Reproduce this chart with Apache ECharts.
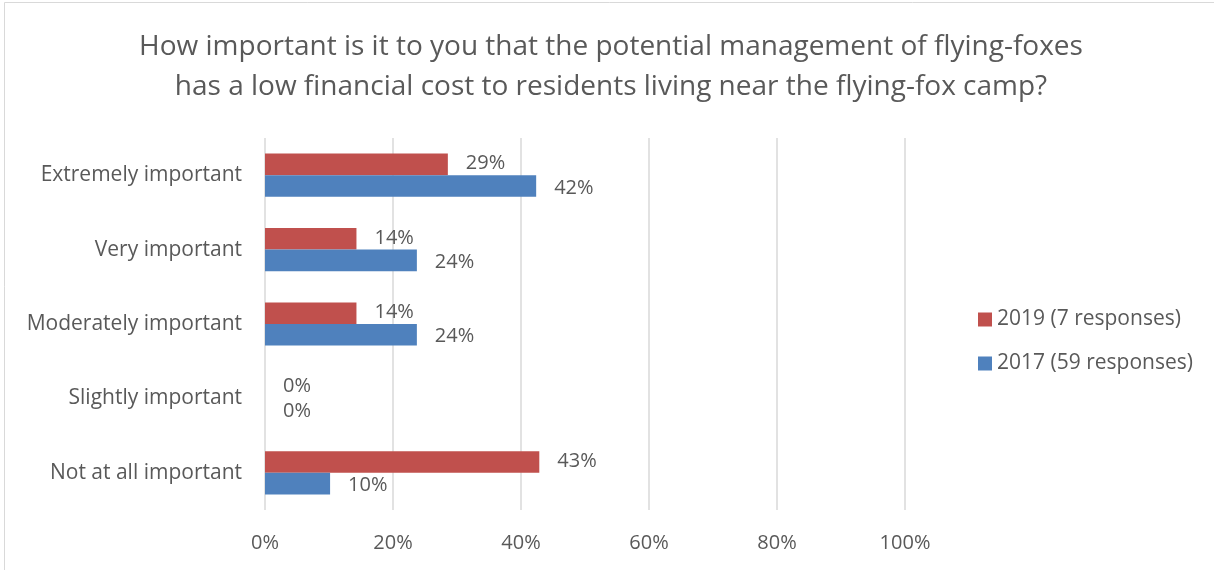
<!DOCTYPE html>
<html>
<head>
<meta charset="utf-8">
<script src="https://cdn.jsdelivr.net/npm/echarts@6/dist/echarts.min.js"></script>
<style>html,body{margin:0;padding:0;background:#fff;}#c{width:1214px;height:570px;}</style>
</head>
<body>
<div id="c"></div>
<script>
const titleText = 'How important is it to you that the potential management of flying-foxes\nhas a low financial cost to residents living near the flying-fox camp?';
const categories = ['Extremely important', 'Very important', 'Moderately important', 'Slightly important', 'Not at all important'];
const seriesNames = ['2019 (7 responses)', '2017 (59 responses)'];
const values2019 = [28.57, 14.29, 14.29, 0, 42.86];
const values2017 = [42.37, 23.73, 23.73, 0, 10.17];
const xTicks = [0, 20, 40, 60, 80, 100];

const FONT = 'Open Sans';
const TXT = '#595959';
const chart = echarts.init(document.getElementById('c'));
const labelCfg = {
  show: true, position: 'right', distance: 18,
  color: TXT, fontFamily: FONT, fontSize: 20,
  formatter: p => Math.round(p.value) + '%'
};
chart.setOption({
  animation: false,
  backgroundColor: '#fff',
  graphic: [{
    type: 'rect', shape: {x: 4.5, y: 2.5, width: 1300, height: 700},
    style: {fill: 'none', stroke: '#d9d9d9', lineWidth: 1}, silent: true
  }],
  title: {
    text: titleText, left: 606, textAlign: 'center', top: 22,
    textStyle: {fontFamily: FONT, fontSize: 28, fontWeight: 'normal', color: TXT, lineHeight: 40}
  },
  legend: {
    orient: 'vertical', left: 973, top: 304, itemGap: 23,
    itemWidth: 14, itemHeight: 14, icon: 'rect',
    textStyle: {fontFamily: FONT, fontSize: 21, color: TXT},
    data: seriesNames
  },
  grid: {left: 265, right: 309, top: 138, bottom: 60, containLabel: false},
  xAxis: {
    type: 'value', min: 0, max: 100, interval: 20,
    axisLine: {show: false}, axisTick: {show: false},
    splitLine: {lineStyle: {color: '#d9d9d9', width: 1.5}},
    axisLabel: {color: TXT, fontFamily: FONT, fontSize: 20, margin: 23,
      formatter: v => xTicks.includes(v) ? v + '%' : ''}
  },
  yAxis: {
    type: 'category', data: categories, inverse: true,
    axisLine: {show: false}, axisTick: {show: false},
    axisLabel: {color: TXT, fontFamily: FONT, fontSize: 21, margin: 23}
  },
  series: [
    {name: seriesNames[0], type: 'bar', data: values2019, barGap: '0%', barCategoryGap: '42%',
     itemStyle: {color: '#C0504D'}, label: Object.assign({}, labelCfg, {offset: [0, -1]})},
    {name: seriesNames[1], type: 'bar', data: values2017, barGap: '0%', barCategoryGap: '42%',
     itemStyle: {color: '#4F81BD'}, label: Object.assign({}, labelCfg, {offset: [0, 2]})}
  ]
});
</script>
</body>
</html>
